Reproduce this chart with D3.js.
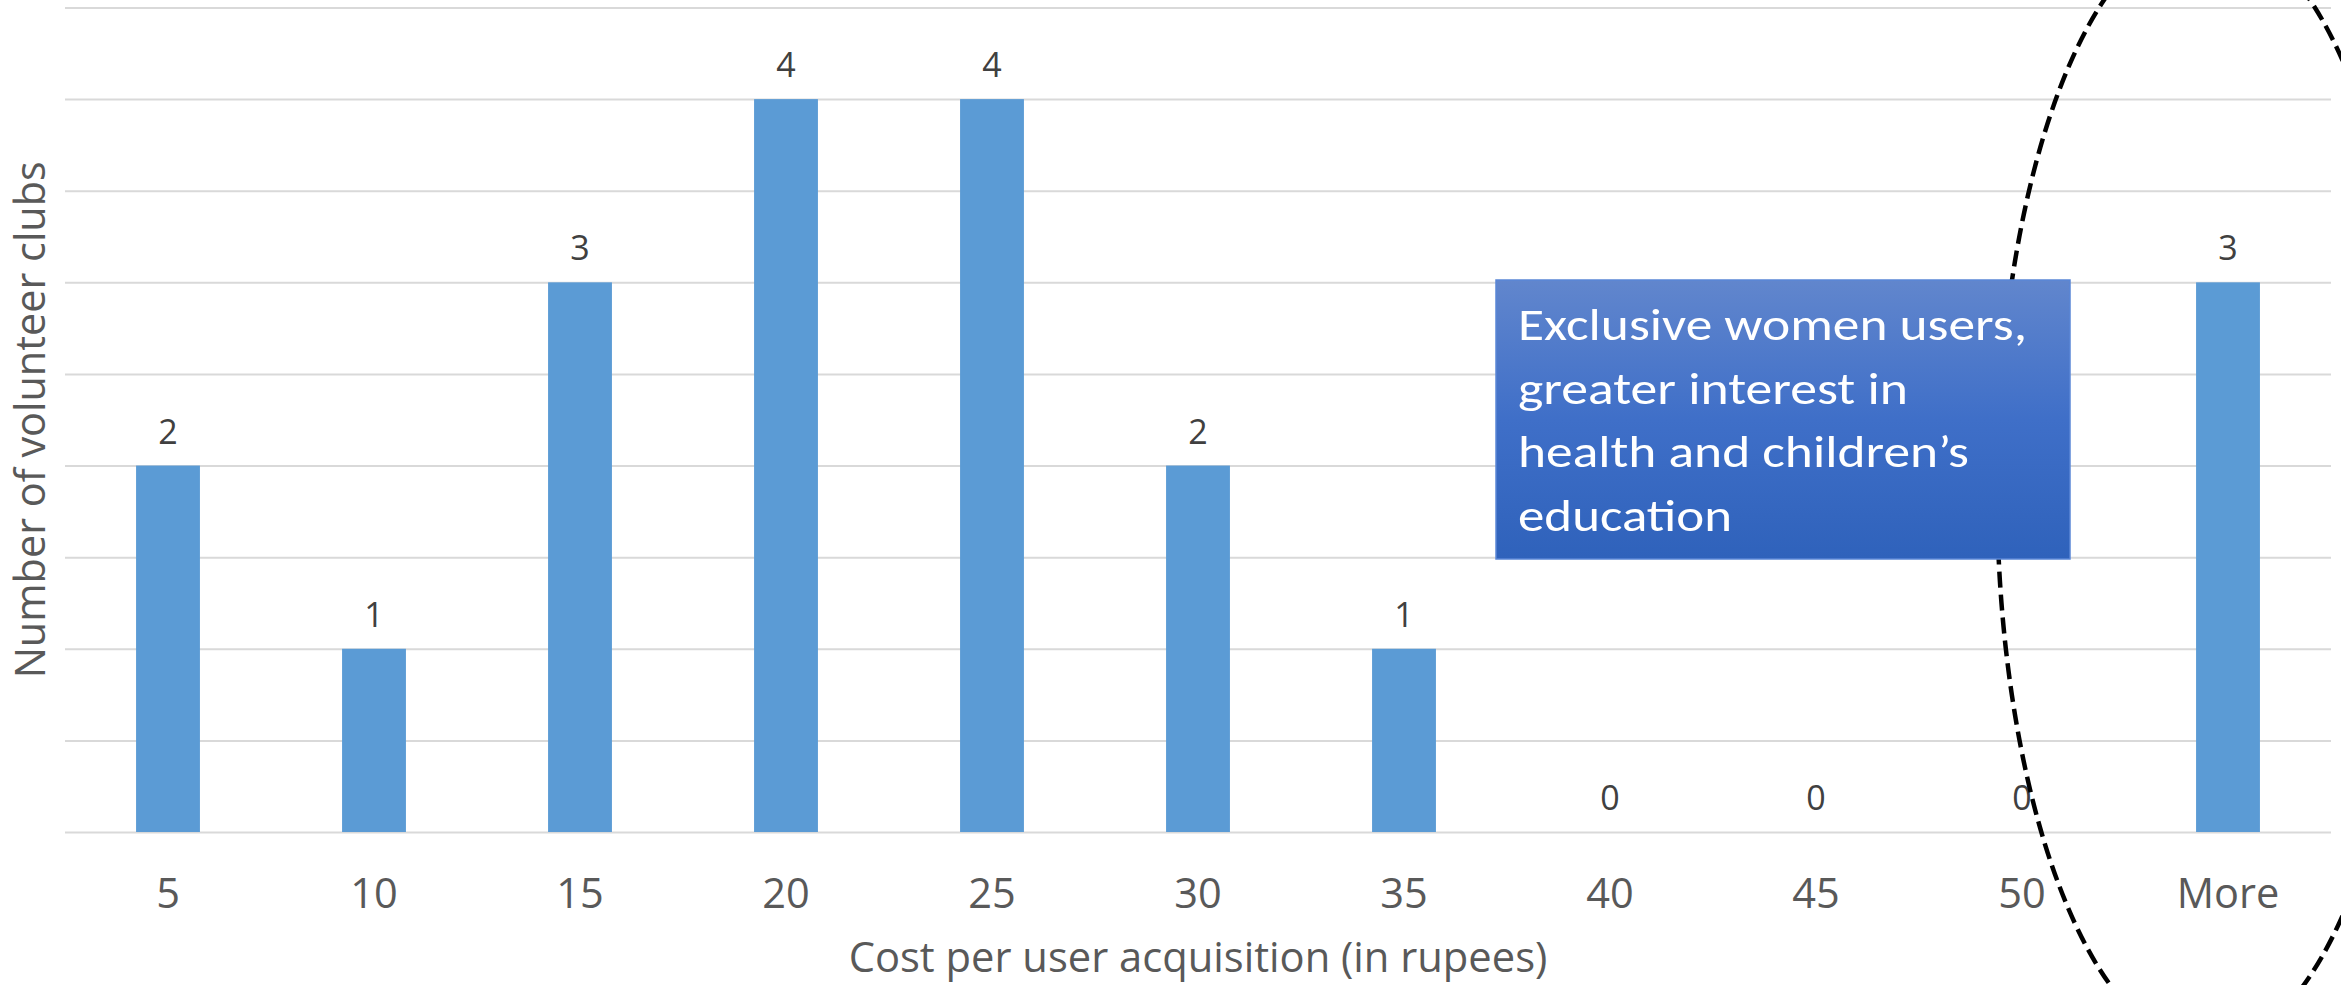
<!DOCTYPE html>
<html>
<head>
<meta charset="utf-8">
<script src="https://cdn.jsdelivr.net/npm/d3@7"></script>
<style>
  html, body { margin: 0; padding: 0; background: #ffffff; }
  svg { display: block; }
</style>
</head>
<body>
<svg id="chart" width="2341" height="985"></svg>
<script>
// ---- data ----
const categories = ["5", "10", "15", "20", "25", "30", "35", "40", "45", "50", "More"];
const counts = [2, 1, 3, 4, 4, 2, 1, 0, 0, 0, 3];
const gridTicks = [0, 0.5, 1, 1.5, 2, 2.5, 3, 3.5, 4, 4.5];
const xTitle = "Cost per user acquisition (in rupees)";
const yTitle = "Number of volunteer clubs";
const annotationLines = ["Exclusive women users,", "greater interest in", "health and children\u2019s", "education"];

// ---- layout ----
const W = 2341, H = 985;
const plot = { left: 65, right: 2331, top: 7.5, bottom: 832 };
const svg = d3.select("#chart");

const x = d3.scaleBand()
  .domain(categories)
  .range([plot.left, plot.right])
  .paddingInner(0.69)
  .paddingOuter(0.345);

const y = d3.scaleLinear()
  .domain([0, 4.5])
  .range([plot.bottom, plot.top]);

// gridlines
const grid = svg.append("g")
  .attr("transform", `translate(${plot.left},0)`)
  .call(d3.axisLeft(y).tickValues(gridTicks).tickSize(-(plot.right - plot.left)).tickFormat(""));
grid.select(".domain").remove();
grid.selectAll(".tick line").attr("stroke", "#d9d9d9").attr("stroke-width", 2);

// bars
svg.append("g").selectAll("rect")
  .data(counts)
  .join("rect")
  .attr("x", (d, i) => x(categories[i]))
  .attr("width", x.bandwidth())
  .attr("y", d => y(d))
  .attr("height", d => y(0) - y(d))
  .attr("fill", "#5b9bd5");

// data labels
svg.append("g").selectAll("text")
  .data(counts)
  .join("text")
  .attr("x", (d, i) => x(categories[i]) + x.bandwidth() / 2)
  .attr("y", d => y(d) - 22)
  .attr("text-anchor", "middle")
  .attr("font-family", "'Open Sans', 'Noto Sans', sans-serif")
  .attr("font-size", 34)
  .attr("fill", "#404040")
  .text(d => d);

// x axis labels
const xAxis = svg.append("g")
  .attr("transform", `translate(0,${plot.bottom})`)
  .call(d3.axisBottom(x).tickSize(0));
xAxis.select(".domain").remove();
xAxis.selectAll(".tick text")
  .attr("y", 76)
  .attr("dy", 0)
  .attr("font-family", "'Open Sans', 'Noto Sans', sans-serif")
  .attr("font-size", 41.5)
  .attr("fill", "#595959");

// axis titles
svg.append("text")
  .attr("x", (plot.left + plot.right) / 2)
  .attr("y", 972)
  .attr("text-anchor", "middle")
  .attr("font-family", "'Open Sans', 'Noto Sans', sans-serif")
  .attr("font-size", 41.7)
  .attr("fill", "#595959")
  .text(xTitle);

svg.append("text")
  .attr("transform", `translate(45,${(plot.top + plot.bottom) / 2}) rotate(-90)`)
  .attr("text-anchor", "middle")
  .attr("font-family", "'Open Sans', 'Noto Sans', sans-serif")
  .attr("font-size", 41.4)
  .attr("fill", "#595959")
  .text(yTitle);

// dashed ellipse highlight
svg.append("ellipse")
  .attr("cx", 2207)
  .attr("cy", 488)
  .attr("rx", 210)
  .attr("ry", 560)
  .attr("fill", "none")
  .attr("stroke", "#000000")
  .attr("stroke-width", 4.5)
  .attr("stroke-dasharray", "16 7");

// annotation box
const defs = svg.append("defs");
const grad = defs.append("linearGradient")
  .attr("id", "boxGrad")
  .attr("x1", 0).attr("y1", 0).attr("x2", 0).attr("y2", 1);
grad.append("stop").attr("offset", "0%").attr("stop-color", "#6186cd");
grad.append("stop").attr("offset", "50%").attr("stop-color", "#3f6fc8");
grad.append("stop").attr("offset", "100%").attr("stop-color", "#2f62bb");

const box = { x: 1496, y: 280, w: 574, h: 279 };
svg.append("rect")
  .attr("x", box.x).attr("y", box.y)
  .attr("width", box.w).attr("height", box.h)
  .attr("fill", "url(#boxGrad)")
  .attr("stroke", "#5a86d6")
  .attr("stroke-width", 1.5);

const lineWidths = [509, 390, 451, 214];
svg.append("g").selectAll("text")
  .data(annotationLines)
  .join("text")
  .attr("x", 1518)
  .attr("y", (d, i) => 340 + i * 63.5)
  .attr("font-family", "Carlito, Lato, 'Open Sans', sans-serif")
  .attr("font-size", 46)
  .attr("fill", "#ffffff")
  .attr("textLength", (d, i) => lineWidths[i])
  .attr("lengthAdjust", "spacingAndGlyphs")
  .text(d => d);
</script>
</body>
</html>
